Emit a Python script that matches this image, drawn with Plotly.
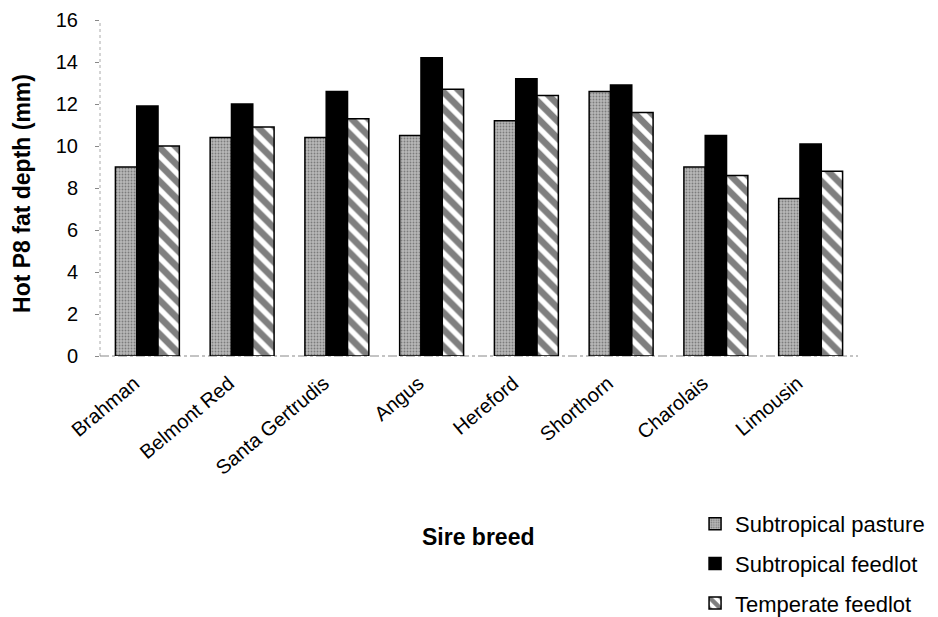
import plotly.graph_objects as go

# Sire breeds on the x axis
breeds = ["Brahman", "Belmont Red", "Santa Gertrudis", "Angus",
          "Hereford", "Shorthorn", "Charolais", "Limousin"]

# Hot P8 fat depth (mm) by finishing environment
subtropical_pasture = [9.0, 10.4, 10.4, 10.5, 11.2, 12.6, 9.0, 7.5]
subtropical_feedlot = [11.9, 12.0, 12.6, 14.2, 13.2, 12.9, 10.5, 10.1]
temperate_feedlot = [10.0, 10.9, 11.3, 12.7, 12.4, 11.6, 8.6, 8.8]

y_ticks = [0, 2, 4, 6, 8, 10, 12, 14, 16]

FONT = "Liberation Sans, Arial, sans-serif"

fig = go.Figure()

fig.add_trace(go.Bar(
    x=breeds, y=subtropical_pasture, name="Subtropical pasture",
    legendgroup="a",
    marker=dict(
        color="#b4b4b4",
        line=dict(color="black", width=1.5),
        pattern=dict(shape=".", fgcolor="#404040", bgcolor="#b8b8b8",
                     size=3, solidity=0.3),
    ),
))
fig.add_trace(go.Bar(
    x=breeds, y=subtropical_feedlot, name="Subtropical feedlot",
    legendgroup="b",
    marker=dict(color="black", line=dict(color="black", width=1.5)),
))
fig.add_trace(go.Bar(
    x=breeds, y=temperate_feedlot, name="Temperate feedlot",
    legendgroup="c",
    marker=dict(
        color="white",
        line=dict(color="black", width=1.5),
        pattern=dict(shape="\\", fgcolor="black", bgcolor="white",
                     size=12, solidity=0.55),
    ),
))

fig.update_layout(
    width=938, height=617,
    margin=dict(l=100, r=80, t=20, b=261, autoexpand=False),
    paper_bgcolor="white", plot_bgcolor="white",
    barmode="group", bargap=0.325, bargroupgap=0,
    font=dict(family=FONT, size=20, color="black"),
    showlegend=True,
    legend=dict(
        xref="container", yref="container",
        x=0.741, y=0.1847, xanchor="left", yanchor="top",
        font=dict(family=FONT, size=22, color="black"),
        tracegroupgap=8, traceorder="grouped",
        bgcolor="rgba(0,0,0,0)",
    ),
)

fig.update_xaxes(
    showline=False, showgrid=False, zeroline=False,
    ticks="", tickangle=-40,
    tickfont=dict(family=FONT, size=20, color="black"),
    ticklabelstandoff=11, ticklabelshift=-13,
    automargin=False,
)
fig.update_yaxes(
    range=[0, 16], tickvals=y_ticks,
    showline=False, showgrid=False, zeroline=False,
    ticks="outside", ticklen=4, tickcolor="#888888", tickwidth=1,
    tickfont=dict(family=FONT, size=20, color="black"),
    ticklabelstandoff=13,
    automargin=False,
)

# faint dotted axis lines
fig.add_shape(type="line", xref="paper", yref="paper", x0=0, x1=0, y0=0, y1=1,
              line=dict(color="#aaaaaa", width=1, dash="dot"), layer="below")
fig.add_shape(type="line", xref="paper", yref="paper", x0=0, x1=1, y0=0, y1=0,
              line=dict(color="#888888", width=1, dash="dashdot"), layer="below")

# axis titles
fig.add_annotation(text="<b>Hot P8 fat depth (mm)</b>", xref="paper", yref="paper",
                   x=-0.103, y=0.485, textangle=-90, showarrow=False,
                   xanchor="center", yanchor="middle",
                   font=dict(family=FONT, size=23, color="black"))
fig.add_annotation(text="<b>Sire breed</b>", xref="paper", yref="paper",
                   x=0.4987, y=-0.538, showarrow=False,
                   xanchor="center", yanchor="middle",
                   font=dict(family=FONT, size=23, color="black"))

fig.write_html("out.html")
